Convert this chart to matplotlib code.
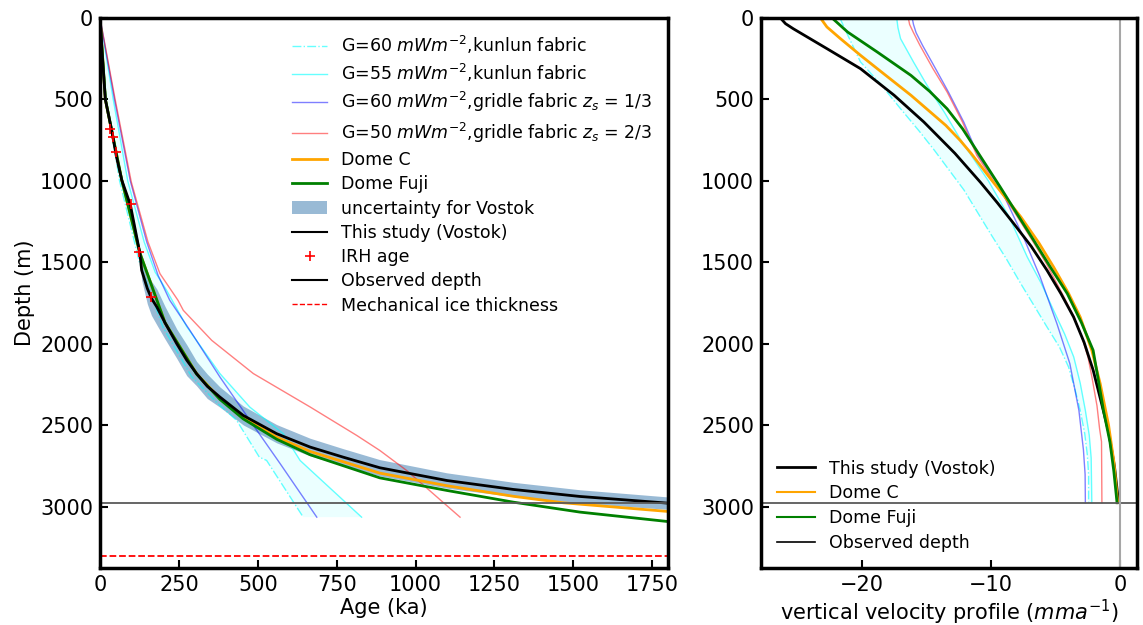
import numpy as np
import matplotlib
matplotlib.use("Agg")
import matplotlib.pyplot as plt
from matplotlib.lines import Line2D
from matplotlib.patches import Patch

# ---------------- Left panel data: age (ka) vs depth (m) ----------------
vostok_age = [0, 8, 17, 36, 52, 69, 96, 126, 132, 150, 163, 180, 206, 243, 275, 306, 340, 380,
              454, 560, 666, 771, 887, 1099, 1310, 1521, 1800]
vostok_depth = [0, 250, 500, 680, 850, 995, 1145, 1440, 1548, 1660, 1720, 1773, 1870, 1998, 2100,
                2182, 2260, 2326, 2439, 2551, 2633, 2695, 2760, 2838, 2893, 2936, 2977]
vostok_unc = [0, 3, 5, 6, 7, 8, 10, 25, 60, 95, 105, 110, 100, 90, 95, 75, 75, 62, 58, 56, 54, 52,
              50, 47, 44, 41, 38]

irh_age = [32, 42, 50, 98, 122, 162]
irh_depth = [681, 728, 820, 1141, 1434, 1710]

domec_age = [0, 17, 69, 126, 206, 306, 380, 454, 560, 666, 887, 1099, 1310, 1469, 1800]
domec_depth = [0, 500, 995, 1440, 1870, 2182, 2335, 2452, 2572, 2660, 2793, 2870, 2935, 2975, 3028]

domef_age = [0, 17, 69, 126, 206, 306, 380, 454, 560, 666, 887, 1099, 1310, 1521, 1800]
domef_depth = [0, 500, 995, 1440, 1870, 2185, 2340, 2460, 2585, 2680, 2822, 2899, 2971, 3032, 3090]

k60_age = [0, 20, 62, 125, 200, 290, 370, 433, 505, 528, 644]
k60_depth = [0, 500, 1000, 1500, 1900, 2200, 2360, 2469, 2695, 2715, 3063]

k55_age = [0, 42, 88, 140, 175, 211, 275, 380, 475, 581, 634, 829]
k55_depth = [0, 500, 1000, 1374, 1560, 1671, 1894, 2182, 2388, 2551, 2715, 3063]

g60_age = [0, 46, 96, 148, 184, 221, 285, 380, 475, 571, 687]
g60_depth = [0, 500, 1000, 1374, 1579, 1732, 1917, 2203, 2469, 2735, 3063]

g50_age = [0, 48, 99, 152, 190, 247, 264, 354, 486, 666, 814, 887, 972, 1141]
g50_depth = [0, 500, 1005, 1374, 1569, 1732, 1794, 1978, 2182, 2387, 2562, 2654, 2777, 3063]

observed_depth = 2975
mech_thickness = 3300

# ---------------- Right panel data: vertical velocity (mm/a) vs depth ----------------
v_vostok = [-26.3, -25.9, -25.3, -24.0, -22.7, -20.1, -17.5, -15.2, -12.8, -10.8, -9.5, -8.25,
            -6.9, -5.67, -4.6, -3.61, -2.8, -2.1, -1.4, -0.9, -0.45, -0.13]
d_vostok = [0, 35, 66, 127, 188, 311, 474, 638, 830, 1010, 1135, 1261, 1400, 1548, 1690, 1835,
            1990, 2160, 2380, 2540, 2750, 2974]

v_domec = [-23.2, -22.7, -21.65, -20.1, -18.8, -16.2, -13.5, -12.4, -11.55, -10.0, -7.7, -6.3,
           -5.16, -4.0, -3.1, -2.2, -1.55, -0.9, -0.5, -0.2]
d_domec = [0, 55, 127, 229, 311, 474, 659, 750, 830, 990, 1220, 1380, 1528, 1690, 1835, 2040,
           2244, 2500, 2720, 2974]

v_domef = [-22.3, -21.1, -18.8, -16.2, -14.75, -13.4, -12.2, -11.1, -9.3, -8.0, -6.7, -5.4, -4.1,
           -3.0, -2.1, -1.7, -1.3, -0.8, -0.5, -0.25]
d_domef = [0, 86, 209, 352, 450, 557, 680, 815, 1036, 1200, 1364, 1530, 1691, 1870, 2039, 2220,
           2408, 2600, 2780, 2974]

v_g50 = [-16.4, -16.3, -16.0, -15.5, -14.5, -13.4, -12.2, -11.1, -9.5, -8.2, -7.0, -5.7, -4.5,
         -3.6, -3.0, -2.5, -2.2, -1.8, -1.6, -1.45, -1.42]
d_g50 = [0, 40, 90, 168, 310, 454, 640, 843, 1036, 1190, 1340, 1510, 1690, 1830, 1950, 2080,
         2200, 2380, 2520, 2600, 2974]

v_g60 = [-16.1, -16.0, -15.8, -15.3, -14.3, -13.3, -12.1, -11.0, -9.3, -7.5, -6.2, -4.9, -3.9,
         -3.2, -2.85, -2.72, -2.7]
d_g60 = [0, 40, 90, 168, 310, 454, 640, 843, 1040, 1343, 1589, 1876, 2121, 2408, 2650, 2800, 2974]

v_k55 = [-17.3, -17.2, -17.0, -16.0, -14.95, -13.6, -12.4, -10.2, -8.6, -7.2, -6.1, -5.16, -4.3,
         -3.6, -3.1, -2.7, -2.4, -2.25, -2.2]
d_k55 = [0, 60, 127, 270, 413, 580, 741, 1000, 1220, 1466, 1630, 1794, 1940, 2080, 2240, 2408,
         2560, 2700, 2974]

v_k60 = [-21.7, -21.0, -20.1, -18.5, -17.0, -15.6, -14.4, -12.1, -10.05, -8.8, -7.7, -5.67, -4.7,
         -4.0, -3.5, -3.1, -2.75, -2.55, -2.45, -2.45]
d_k60 = [0, 120, 270, 410, 557, 690, 810, 1055, 1322, 1480, 1630, 1896, 2020, 2142, 2280, 2408,
         2550, 2680, 2800, 2974]

lab_k60 = "G=60 $mWm^{-2}$,kunlun fabric"
lab_k55 = "G=55 $mWm^{-2}$,kunlun fabric"
lab_g60 = "G=60 $mWm^{-2}$,gridle fabric $z_s$ = 1/3"
lab_g50 = "G=50 $mWm^{-2}$,gridle fabric $z_s$ = 2/3"

FS = 15
LFS = 12.5
plt.rcParams['font.family'] = ['DejaVu Sans']

fig = plt.figure(figsize=(11.43, 6.25), dpi=100)
ax1 = fig.add_axes([0.0875, 0.0912, 0.4969, 0.88])
ax2 = fig.add_axes([0.6658, 0.0912, 0.3290, 0.88])

c_cyan = dict(color='cyan', alpha=0.6, lw=1.0)
c_blue = dict(color='blue', alpha=0.5, lw=1.0)
c_red = dict(color='red', alpha=0.5, lw=1.0)

# ---- Left panel ----
ka, kd = np.array(k60_age), np.array(k60_depth)
sa, sd = np.array(k55_age), np.array(k55_depth)
ax1.fill(np.r_[ka, sa[::-1]], np.r_[kd, sd[::-1]], color='cyan', alpha=0.08, lw=0)
ax1.plot(k60_age, k60_depth, ls='-.', **c_cyan)
ax1.plot(k55_age, k55_depth, **c_cyan)
ax1.plot(g60_age, g60_depth, **c_blue)
ax1.plot(g50_age, g50_depth, **c_red)
ax1.plot(domec_age, domec_depth, color='orange', lw=2)
ax1.plot(domef_age, domef_depth, color='green', lw=2)
ax1.plot(vostok_age, vostok_depth, color='black', lw=2)
vd = np.array(vostok_depth); vu = np.array(vostok_unc)
ax1.fill_between(vostok_age, vd - vu, vd + vu, color='steelblue', alpha=0.55, lw=0)
ax1.plot(irh_age, irh_depth, ls='none', marker='+', color='red', ms=7, mew=1.2)
ax1.axhline(observed_depth, color='0.35', lw=1.3)
ax1.axhline(mech_thickness, color='red', ls='--', lw=1.3)

ax1.set_xlim(0, 1800)
ax1.set_ylim(3375, 0)
ax1.set_xticks([0, 250, 500, 750, 1000, 1250, 1500, 1750])
ax1.set_yticks([0, 500, 1000, 1500, 2000, 2500, 3000])
ax1.set_xlabel("Age (ka)", fontsize=FS, labelpad=2)
ax1.set_ylabel("Depth (m)", fontsize=FS, labelpad=4)

handles1 = [
    Line2D([], [], ls='-.', **c_cyan),
    Line2D([], [], **c_cyan),
    Line2D([], [], **c_blue),
    Line2D([], [], **c_red),
    Line2D([], [], color='orange', lw=2),
    Line2D([], [], color='green', lw=2),
    Patch(facecolor='steelblue', alpha=0.55, edgecolor='none'),
    Line2D([], [], color='black', lw=1.5),
    Line2D([], [], ls='none', marker='+', color='red', ms=7, mew=1.2),
    Line2D([], [], color='black', lw=1.5),
    Line2D([], [], color='red', ls='--', lw=1.0),
]
labels1 = [lab_k60, lab_k55, lab_g60, lab_g50, "Dome C", "Dome Fuji", "uncertainty for Vostok",
           "This study (Vostok)", "IRH age", "Observed depth", "Mechanical ice thickness"]
ax1.legend(handles1, labels1, loc='upper right', frameon=False, fontsize=LFS,
           labelspacing=0.36, handlelength=2.0)

# ---- Right panel ----
ka2, kd2 = np.array(v_k60), np.array(d_k60)
sa2, sd2 = np.array(v_k55), np.array(d_k55)
ax2.fill(np.r_[ka2, sa2[::-1]], np.r_[kd2, sd2[::-1]], color='cyan', alpha=0.08, lw=0)
ax2.plot(v_k60, d_k60, ls='-.', **c_cyan)
ax2.plot(v_k55, d_k55, **c_cyan)
ax2.plot(v_g60, d_g60, **c_blue)
ax2.plot(v_g50, d_g50, **c_red)
ax2.plot(v_vostok, d_vostok, color='black', lw=2)
ax2.plot(v_domec, d_domec, color='orange', lw=2)
ax2.plot(v_domef, d_domef, color='green', lw=2)
ax2.axhline(observed_depth, color='0.35', lw=1.3)
ax2.axvline(0, color='0.65', lw=1.5)
ax2.set_xlim(-27.8, 1.3)
ax2.set_ylim(3375, 0)
ax2.set_xticks([-20, -10, 0])
ax2.set_yticks([0, 500, 1000, 1500, 2000, 2500, 3000])
ax2.set_xlabel("vertical velocity profile ($mma^{-1}$)", fontsize=FS, labelpad=2)

handles2 = [Line2D([], [], color='black', lw=2), Line2D([], [], color='orange', lw=1.5),
            Line2D([], [], color='green', lw=1.5), Line2D([], [], color='black', lw=1.2)]
labels2 = ["This study (Vostok)", "Dome C", "Dome Fuji", "Observed depth"]
ax2.legend(handles2, labels2, loc='lower left', frameon=False, fontsize=LFS, labelspacing=0.4,
           handlelength=2.2)

for ax in (ax1, ax2):
    for s in ax.spines.values():
        s.set_linewidth(2.5)
    ax.tick_params(direction='in', labelsize=FS, length=6, width=1.5, pad=5)

fig.savefig("out.png", dpi=100)
